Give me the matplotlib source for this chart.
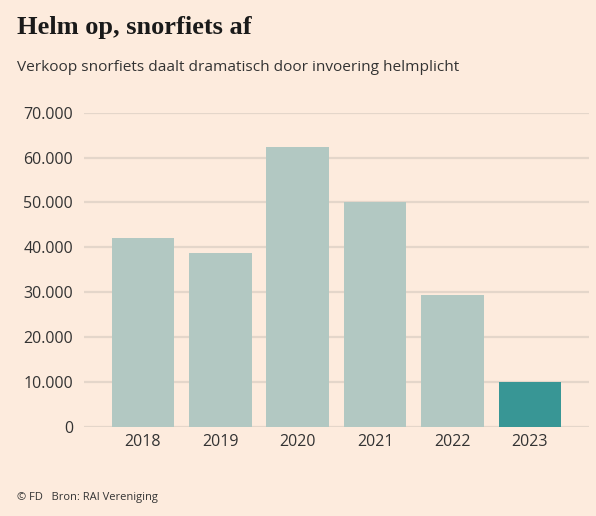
import matplotlib.pyplot as plt
from matplotlib.ticker import FuncFormatter

years = ['2018', '2019', '2020', '2021', '2022', '2023']
sales = [42100, 38800, 62400, 50150, 29300, 9900]
yticks = [0, 10000, 20000, 30000, 40000, 50000, 60000, 70000]

bg = '#fdebdd'
bar_color = '#b2c8c2'
hl_color = '#389695'
grid_color = '#e4d6ca'
text_color = '#333333'

plt.rcParams['font.family'] = ['Open Sans', 'DejaVu Sans']

fig = plt.figure(figsize=(5.96, 5.16), dpi=100, facecolor=bg)
ax = fig.add_axes([0.141, 0.173, 0.847, 0.6086])
ax.set_facecolor(bg)

colors = [bar_color] * (len(years) - 1) + [hl_color]
ax.bar(range(len(years)), sales, width=0.81, color=colors, zorder=2)

ax.set_xlim(-0.762, 5.762)
ax.set_ylim(0, 70000)
ax.set_yticks(yticks)
ax.yaxis.set_major_formatter(FuncFormatter(lambda v, p: f'{int(v):,}'.replace(',', '.')))
ax.set_xticks(range(len(years)))
ax.set_xticklabels(years)
ax.grid(axis='y', color=grid_color, linewidth=1.6, zorder=0)
ax.set_axisbelow(True)
for s in ax.spines.values():
    s.set_visible(False)
ax.tick_params(axis='y', length=0, pad=8, labelsize=11.5, labelcolor=text_color)
ax.tick_params(axis='x', length=0, pad=5, labelsize=11.5, labelcolor=text_color)

fig.text(0.029, 0.947, 'Helm op, snorfiets af', family='Liberation Serif',
         fontweight='bold', fontsize=19, color='#1a1a1a', va='center')
fig.text(0.029, 0.869, 'Verkoop snorfiets daalt dramatisch door invoering helmplicht',
         fontsize=11.1, color=text_color, va='center')
fig.text(0.029, 0.036, '\u00a9 FD   Bron: RAI Vereniging', fontsize=8,
         color=text_color, va='center')

fig.savefig('out.png', dpi=100, facecolor=bg)
